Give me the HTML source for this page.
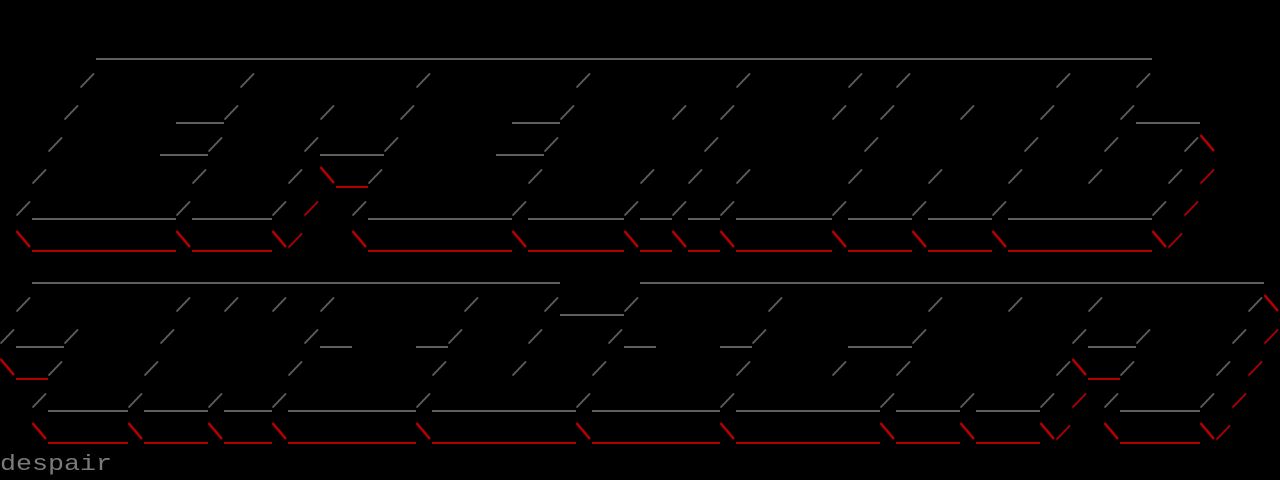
<!DOCTYPE html>
<html><head><meta charset="utf-8"><style>
html,body{margin:0;padding:0;background:#000;width:1280px;height:480px;overflow:hidden}
svg{display:block}
</style></head><body>
<svg id="s" width="1280" height="480" xmlns="http://www.w3.org/2000/svg">
<rect width="1280" height="480" fill="#000"/>
<g id="g"></g>
<text x="0" y="470" font-family="Liberation Mono, monospace" font-size="22" fill="#7a7a7a" textLength="112" lengthAdjust="spacingAndGlyphs">despair</text>
</svg>
<script>
var rows={
1:"_6-71",
2:"/5 /15 /26 /36 /46 /53 /56 /66 /71",
3:"/4 _11-13 /14 /20 /25 _32-34 /35 /42 /45 /52 /55 /60 /65 /70 _71-74",
4:"/3 _10-12 /13 /19 _20-23 /24 _31-33 /34 /44 /54 /64 /69 /74 B75",
5:"/2 /12 /18 B20 C21-22 /23 /33 /40 /43 /46 /53 /58 /63 /68 /73 A75",
6:"/1 _2-10 /11 _12-16 /17 A19 /22 _23-31 /32 _33-38 /39 _40-41 /42 _43-44 /45 _46-51 /52 _53-56 /57 _58-61 /62 _63-71 /72 A74",
7:"B1 C2-10 B11 C12-16 B17 A18 B22 C23-31 B32 C33-38 B39 C40-41 B42 C43-44 B45 C46-51 B52 C53-56 B57 C58-61 B62 C63-71 B72 A73",
8:"_2-34 _40-78",
9:"/1 /11 /14 /17 /20 /29 /34 _35-38 /39 /48 /58 /63 /68 /78 B79",
10:"/0 _1-3 /4 /10 /19 _20-21 _26-27 /28 /33 /38 _39-40 _45-46 /47 _53-56 /57 /67 _68-70 /71 /77 A79",
11:"B0 C1-2 /3 /9 /18 /27 /32 /37 /46 /52 /56 /66 B67 C68-69 /70 /76 A78",
12:"/2 _3-7 /8 _9-12 /13 _14-16 /17 _18-25 /26 _27-35 /36 _37-44 /45 _46-54 /55 _56-59 /60 _61-64 /65 A67 /69 _70-74 /75 A77",
13:"B2 C3-7 B8 C9-12 B13 C14-16 B17 C18-25 B26 C27-35 B36 C37-44 B45 C46-54 B55 C56-59 B60 C61-64 B65 A66 B69 C70-74 B75 A76"
};
var G="#5e5e5e",R="#b00000",out="";
for(var r in rows){
  var y=r*32;
  rows[r].split(" ").forEach(function(t){
    var ch=t[0],p=t.slice(1).split("-"),a=+p[0],b=p.length>1?+p[1]:a;
    if(ch=="_"||ch=="C"){
      out+='<rect x="'+(a*16)+'" y="'+(y+26)+'" width="'+((b-a+1)*16)+'" height="2" fill="'+(ch=="_"?G:R)+'"/>';
    }else if(ch=="/"||ch=="A"){
      var x=a*16;
      out+='<line x1="'+(x+0.5)+'" y1="'+(y+23.5)+'" x2="'+(x+14)+'" y2="'+(y+9.5)+'" stroke="'+(ch=="/"?G:R)+'" stroke-width="1.8"/>';
    }else if(ch=="B"){
      var x=a*16;
      out+='<line x1="'+(x+0.5)+'" y1="'+(y+7)+'" x2="'+(x+14)+'" y2="'+(y+23)+'" stroke="'+R+'" stroke-width="2.6"/>';
    }
  });
}
document.getElementById("g").innerHTML=out;
</script>
</body></html>
